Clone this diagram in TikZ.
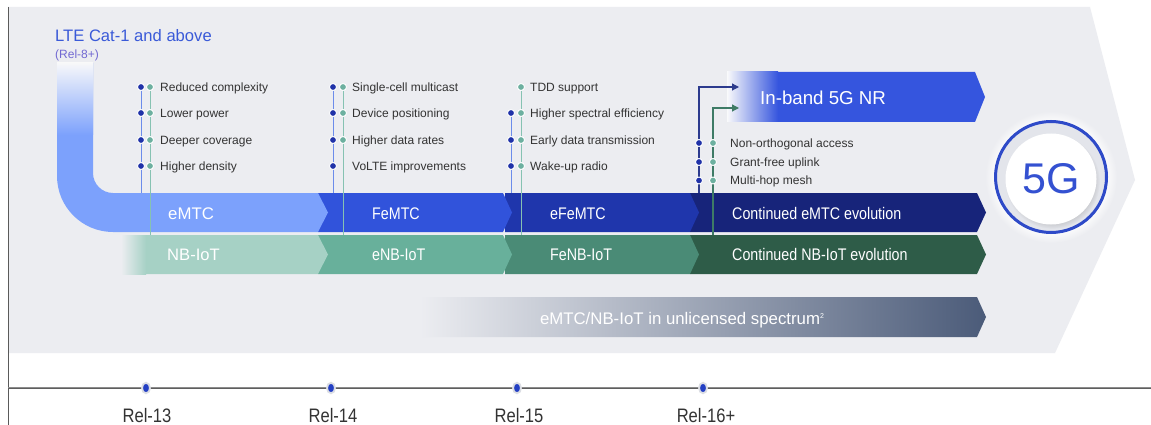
\documentclass[tikz,border=0pt]{standalone}
\usepackage{fontspec}
\setmainfont{Liberation Sans}
\newfontfamily\narrowsans[FakeStretch=0.85]{Liberation Sans}
\usetikzlibrary{arrows.meta,shadows,shapes.geometric,fadings}

\pgfdeclarelayer{bands}
\pgfdeclarelayer{links}
\pgfsetlayers{bands,links,main}

\definecolor{bgpanel}{HTML}{ECEDF1}
\definecolor{frameline}{HTML}{5A5A5A}
\definecolor{mtcA}{HTML}{7CA1FC}
\definecolor{mtcB}{HTML}{3153DB}
\definecolor{mtcC}{HTML}{1F36AC}
\definecolor{mtcD}{HTML}{17247A}
\definecolor{nbA}{HTML}{A6D1C5}
\definecolor{nbB}{HTML}{68B09B}
\definecolor{nbC}{HTML}{4A8B76}
\definecolor{nbD}{HTML}{2E5C48}
\definecolor{nrblue}{HTML}{3555DE}
\definecolor{slate}{HTML}{4B5B79}
\definecolor{dotnavy}{HTML}{2032A8}
\definecolor{dotteal}{HTML}{6DB0A0}
\definecolor{linkblue}{HTML}{6C8CEB}
\definecolor{linkteal}{HTML}{86C2B2}
\definecolor{arrnavy}{HTML}{2C3B8E}
\definecolor{arrgreen}{HTML}{3E7B66}
\definecolor{titleblue}{HTML}{3A5AD8}
\definecolor{relpurple}{HTML}{7168D2}
\definecolor{bodytext}{HTML}{333333}
\definecolor{ringblue}{HTML}{2E4AC8}
\definecolor{fivegblue}{HTML}{3451D1}
\definecolor{timegray}{HTML}{8C8C8C}
\definecolor{timedark}{HTML}{5E5E5E}
\definecolor{reldotfill}{HTML}{2440C4}
\definecolor{haloring}{HTML}{DCDEE4}
\definecolor{innerring}{HTML}{E3E5EB}

\tikzset{
  fs/.style={font=\fontsize{#1}{#1}\selectfont},
  nfs/.style={font=\narrowsans\fontsize{#1}{#1}\selectfont},
  lbl/.style={inner sep=0pt, anchor=base west},
  feat/.style={lbl, fs=12, text=bodytext},
  rowtxt/.style={lbl, text=white},
  ndot/.style={circle, inner sep=0pt, minimum size=7pt, fill=dotnavy, draw=white, line width=0.9pt},
  tdot/.style={ndot, fill=dotteal},
  nlink/.style={linkblue, line width=1pt},
  tlink/.style={linkteal, line width=1pt},
  uparrow/.style={line width=1.2pt, -{Triangle[length=7pt, width=7pt]}},
  reldot/.style={ellipse, inner sep=0pt, minimum width=8pt, minimum height=10.5pt,
                 fill=reldotfill, draw=haloring, line width=1.8pt},
  rellabel/.style={inner sep=0pt, anchor=base, nfs=19.5, text=bodytext},
}

\begin{document}
\begin{tikzpicture}[x=1pt, y=-1pt]
\useasboundingbox (0,0) rectangle (1151,425);

% ---------- panel, bands and timeline (bottom layer) ----------
\begin{pgfonlayer}{bands}
  \fill[white] (0,0) rectangle (1151,425);
  \fill[bgpanel] (8,7) -- (1090,7) -- (1135,180) -- (1055,353) -- (8,353) -- cycle;
  \draw[frameline, line width=0.8pt] (8,7) -- (8,425);

  % timeline axis
  \draw[timegray, line width=2.4pt] (8,388) -- (1151,388);
  \draw[timedark, line width=0.8pt] (8,388) -- (1151,388);

  % eMTC row, drawn right to left so each tip lies over the next band
  \fill[mtcD] (690,193) -- (977,193) -- (986,212.5) -- (977,232) -- (690,232) -- cycle;
  \fill[mtcC] (505,193) -- (690,193) -- (699,212.5) -- (690,232) -- (505,232) -- cycle;
  \fill[mtcB] (318,193) -- (503,193) -- (512,212.5) -- (503,232) -- (318,232) -- cycle;
  \fill[mtcA] (57,63) -- (57,176) arc[start angle=180, end angle=90, radius=56]
       -- (318,232) -- (328,212.5) -- (318,193) -- (113,193)
       arc[start angle=90, end angle=180, radius=20] -- (93,63) -- cycle;
  \shade[top color=bgpanel!40!white, bottom color=mtcA] (57,63) rectangle (93,135);

  % NB-IoT row
  \fill[nbD] (690,235) -- (977,235) -- (986,254.5) -- (977,274) -- (690,274) -- cycle;
  \fill[nbC] (505,235) -- (690,235) -- (699,254.5) -- (690,274) -- (505,274) -- cycle;
  \fill[nbB] (318,235) -- (503,235) -- (512,254.5) -- (503,274) -- (318,274) -- cycle;
  \fill[nbA] (121,235) -- (318,235) -- (328,254.5) -- (318,274) -- (121,274) -- cycle;
  \shade[left color=bgpanel, right color=nbA] (121,235) rectangle (146,274);

  % in-band 5G NR band
  \fill[nrblue] (727,72) -- (975,72) -- (985,97) -- (975,122) -- (727,122) -- cycle;
  \shade[left color=bgpanel!30!white, right color=nrblue] (727,72) rectangle (778,122);

  % unlicensed spectrum band
  \shade[left color=bgpanel, right color=slate]
       (420,297) -- (977,297) -- (986,317) -- (977,337) -- (420,337) -- cycle;
\end{pgfonlayer}

\coordinate (mtctop) at (0,193);
\coordinate (nbtop) at (0,235);
\coordinate (nrA) at (739,87);
\coordinate (nrB) at (739,108);

% ---------- title ----------
\node[lbl, fs=16.6, text=titleblue] (lte) at (55,41.4) {LTE Cat-1 and above};
\node[lbl, fs=12, text=relpurple] (lterel) at (55,59) {(Rel-8+)};

% ---------- feature lists ----------
% Rel-13
\foreach \r/\y/\t in {1/87/Reduced complexity, 2/113/Lower power,
                      3/140/Deeper coverage, 4/166/Higher density}{
  \node[ndot] (d1\r n) at (141,\y) {};
  \node[tdot] (d1\r t) at (150,\y) {};
  \node[feat] (f1\r) at (160,\y+4.3) {\t};
}
% Rel-14
\foreach \r/\y/\t in {1/87/Single-cell multicast, 2/113/Device positioning,
                      3/140/Higher data rates}{
  \node[ndot] (d2\r n) at (333,\y) {};
  \node[tdot] (d2\r t) at (343,\y) {};
  \node[feat] (f2\r) at (352,\y+4.3) {\t};
}
\node[ndot] (d24n) at (333,166) {};
\node[feat] (f24) at (352,170.3) {VoLTE improvements};
% Rel-15
\node[tdot] (d31t) at (521,87) {};
\node[feat] (f31) at (530,91.3) {TDD support};
\foreach \r/\y/\t in {2/113/Higher spectral efficiency, 3/140/Early data transmission,
                      4/166/Wake-up radio}{
  \node[ndot] (d3\r n) at (511,\y) {};
  \node[tdot] (d3\r t) at (521,\y) {};
  \node[feat] (f3\r) at (530,\y+4.3) {\t};
}
% Rel-16+
\foreach \r/\y/\t in {1/143/Non-orthogonal access, 2/162/Grant-free uplink,
                      3/180.5/Multi-hop mesh}{
  \node[ndot] (d4\r n) at (699,\y) {};
  \node[tdot] (d4\r t) at (713,\y) {};
  \node[feat] (f4\r) at (730,\y+4.3) {\t};
}

% ---------- links from the lists to the bands ----------
\begin{pgfonlayer}{links}
  \draw[nlink] (d11n.center) -- (d11n.center |- mtctop);
  \draw[tlink] (d11t.center) -- (d11t.center |- nbtop);
  \draw[nlink] (d21n.center) -- (d21n.center |- mtctop);
  \draw[tlink] (d21t.center) -- (d21t.center |- nbtop);
  \draw[nlink] (d32n.center) -- (d32n.center |- mtctop);
  \draw[tlink] (d31t.center) -- (d31t.center |- nbtop);
  \draw[uparrow, arrnavy] (d41n.center |- mtctop) -- (d41n.center |- nrA) -- (nrA);
  \draw[uparrow, arrgreen] (d41t.center |- nbtop) -- (d41t.center |- nrB) -- (nrB);
\end{pgfonlayer}

% ---------- band labels ----------
\node[rowtxt, fs=16.8] (temtc) at (168,219) {eMTC};
\node[rowtxt, nfs=16.8] (tfemtc) at (372,219) {FeMTC};
\node[rowtxt, nfs=16.8] (tefemtc) at (550,219) {eFeMTC};
\node[rowtxt, nfs=16.8] (tcemtc) at (732,219) {Continued eMTC evolution};
\node[rowtxt, fs=16.6] (tnb) at (167,260.5) {NB-IoT};
\node[rowtxt, nfs=16.8] (tenb) at (372,260.5) {eNB-IoT};
\node[rowtxt, nfs=16.8] (tfenb) at (550,260.5) {FeNB-IoT};
\node[rowtxt, nfs=16.8] (tcnb) at (732,260.5) {Continued NB-IoT evolution};
\node[rowtxt, fs=18.7] (tnr) at (760,105) {In-band 5G NR};
\node[inner sep=0pt, anchor=base, fs=16.8, text=white] (tunl) at (682,324.5)
     {eMTC/NB-IoT in unlicensed spectrum{\fontsize{7}{7}\selectfont\raisebox{6pt}{2}}};

% ---------- 5G badge ----------
\fill[white, path fading=circle with fuzzy edge 20 percent] (1051,177) circle (66);
\draw[ringblue, line width=3pt, fill=innerring] (1051,177) circle (55.5);
\node[circle, inner sep=0pt, minimum size=91pt, fill=white,
      circular drop shadow={shadow scale=1.04, shadow xshift=1.5pt, shadow yshift=-2.5pt, opacity=.3},
      fs=43, text=fivegblue] (fiveg) at (1051,179) {5G};

% ---------- release timeline ----------
\foreach \n/\x/\lx/\t in {13/146/147/Rel-13, 14/331/333/Rel-14, 15/517/519/Rel-15, 16/703/706/Rel-16+}{
  \node[reldot] (r\n) at (\x,388) {};
  \node[rellabel] (rl\n) at (\lx,422.5) {\t};
}
\end{tikzpicture}
\end{document}
